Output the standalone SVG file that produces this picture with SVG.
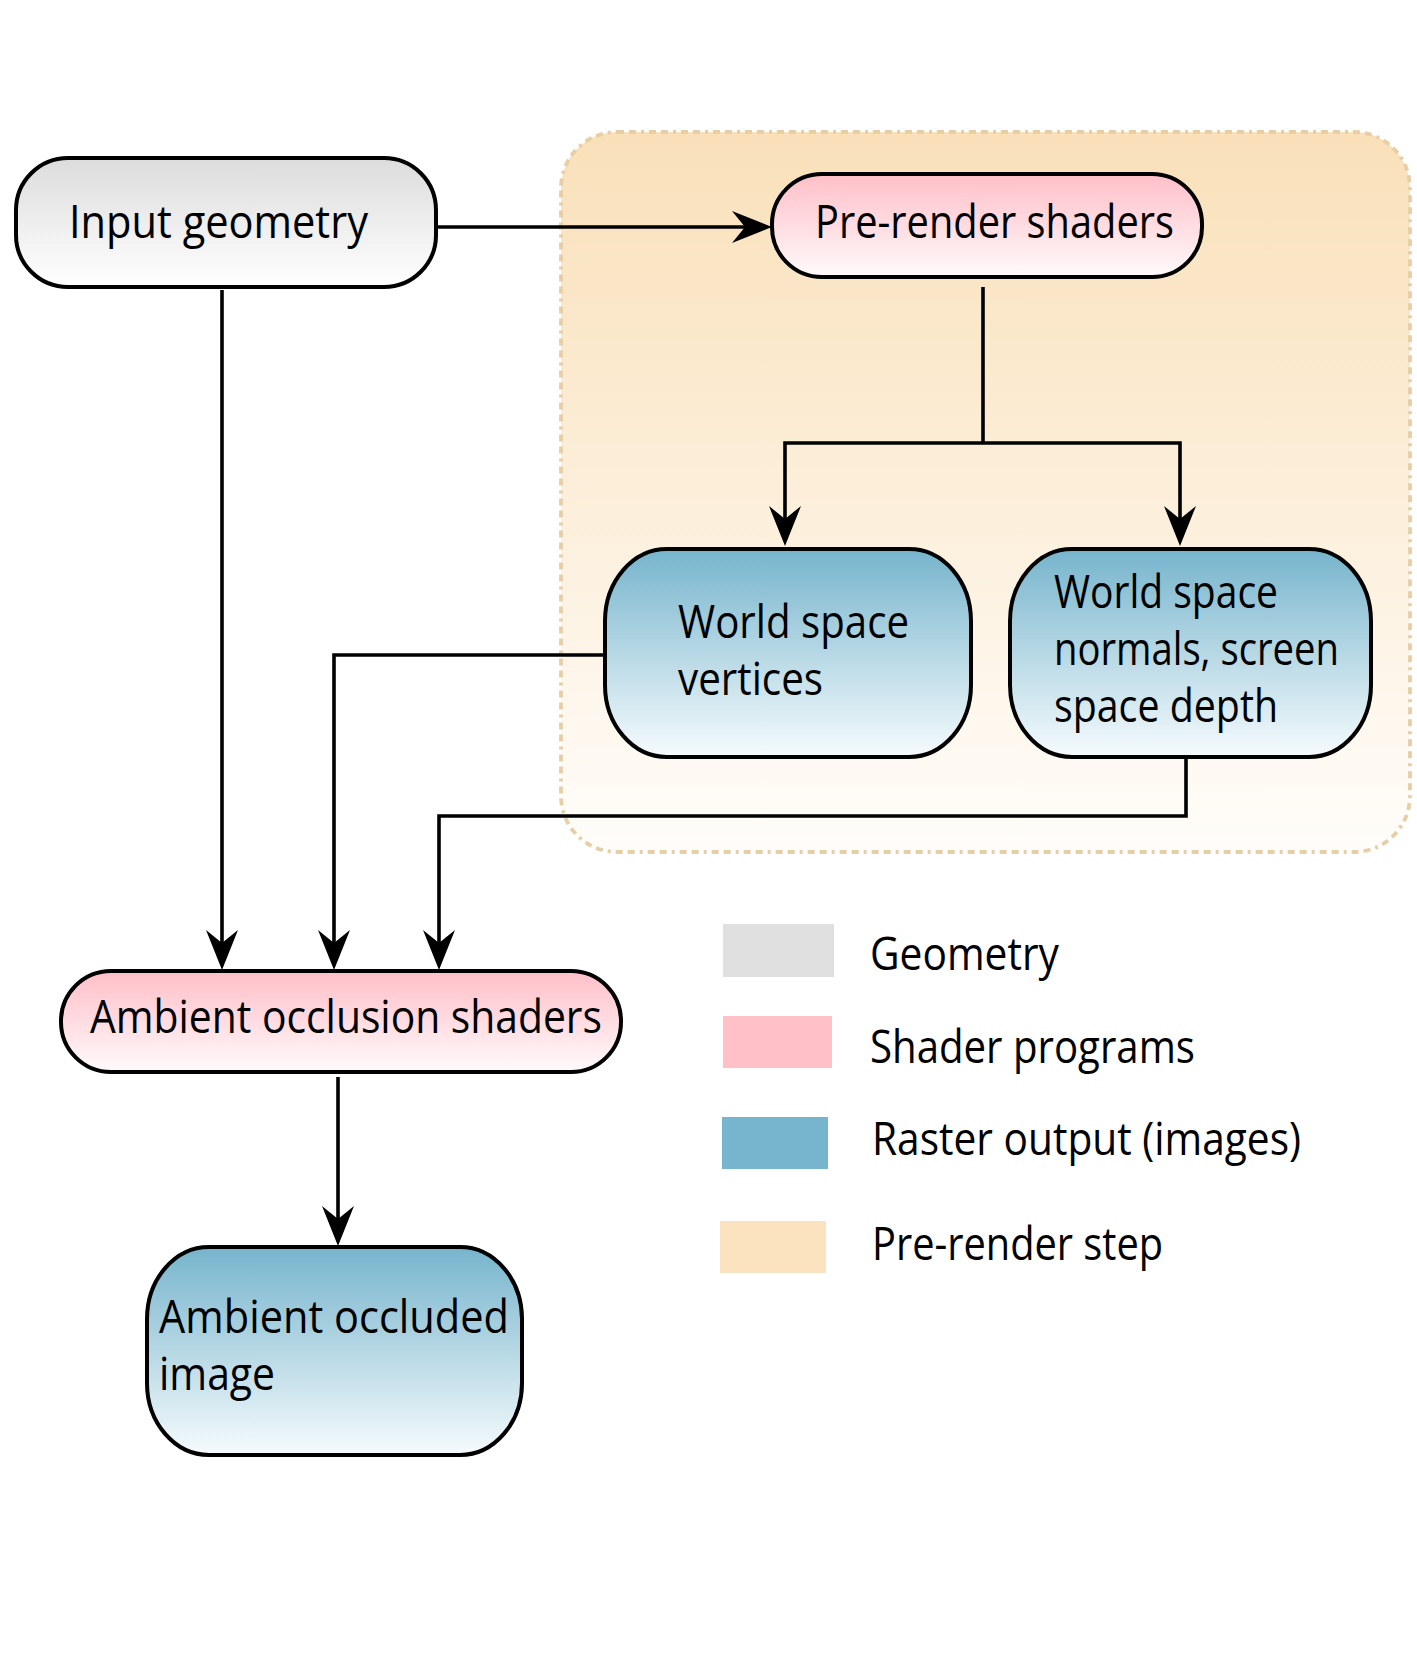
<svg xmlns="http://www.w3.org/2000/svg" width="1417" height="1654" viewBox="0 0 1417 1654">
  <style>
    .node { stroke: #000; stroke-width: 4; }
    .lbl { font-family: "Open Sans", "Liberation Sans", sans-serif; font-size: 45px; fill: #000; }
    .conn { fill: none; stroke: #000; stroke-width: 3.6; }
  </style>
  <defs>
    <linearGradient id="gGray" x1="0" y1="0" x2="0" y2="1">
      <stop offset="0" stop-color="#dcdcdc"/>
      <stop offset="1" stop-color="#ffffff"/>
    </linearGradient>
    <linearGradient id="gPink" x1="0" y1="0" x2="0" y2="1">
      <stop offset="0" stop-color="#ffbfc8"/>
      <stop offset="1" stop-color="#fffafb"/>
    </linearGradient>
    <linearGradient id="gBlue" x1="0" y1="0" x2="0" y2="1">
      <stop offset="0" stop-color="#76b4cc"/>
      <stop offset="1" stop-color="#f6fbfd"/>
    </linearGradient>
    <linearGradient id="gOrange" x1="0" y1="0" x2="0" y2="1">
      <stop offset="0" stop-color="#f9e0b9"/>
      <stop offset="1" stop-color="#fffdfa"/>
    </linearGradient>
    <marker id="arrow" markerUnits="userSpaceOnUse" viewBox="-42 -17 44 34" markerWidth="44" markerHeight="34" refX="-27" refY="0" orient="auto">
      <path d="M0,0 L-40,-16 L-27,0 L-40,16 Z" fill="#000"/>
    </marker>
  </defs>

  <!-- pre-render step region -->
  <g id="prerender-region">
    <rect x="561" y="132" width="849" height="720" rx="56" ry="56" fill="url(#gOrange)" stroke="#e6cea6" stroke-width="3.8" stroke-dasharray="7 5 7 5 3 5"/>
  </g>

  <!-- connectors -->
  <g id="connectors">
    <path class="conn" d="M436,227 H745" marker-end="url(#arrow)"/>
    <path class="conn" d="M222,290 V943" marker-end="url(#arrow)"/>
    <path class="conn" d="M983,287 V443"/>
    <path class="conn" d="M983,443 H785 V519" marker-end="url(#arrow)"/>
    <path class="conn" d="M983,443 H1180 V519" marker-end="url(#arrow)"/>
    <path class="conn" d="M604,655 H334 V943" marker-end="url(#arrow)"/>
    <path class="conn" d="M1186,758 V816 H439 V943" marker-end="url(#arrow)"/>
    <path class="conn" d="M338,1077 V1219" marker-end="url(#arrow)"/>
  </g>

  <g id="input-geometry">
    <rect class="node" x="16" y="158" width="420" height="129" rx="52" ry="52" fill="url(#gGray)"/>
    <text class="lbl" x="69" y="238" textLength="299" lengthAdjust="spacingAndGlyphs">Input geometry</text>
  </g>

  <g id="prerender-shaders">
    <rect class="node" x="772" y="174" width="430" height="103" rx="50" ry="50" fill="url(#gPink)"/>
    <text class="lbl" x="815" y="238" textLength="359" lengthAdjust="spacingAndGlyphs">Pre-render shaders</text>
  </g>

  <g id="world-vertices">
    <rect class="node" x="605" y="549" width="366" height="208" rx="62" ry="72" fill="url(#gBlue)"/>
    <text class="lbl" x="678" y="638" textLength="231" lengthAdjust="spacingAndGlyphs">World space</text>
    <text class="lbl" x="678" y="695" textLength="145" lengthAdjust="spacingAndGlyphs">vertices</text>
  </g>

  <g id="world-normals-depth">
    <rect class="node" x="1010" y="549" width="361" height="208" rx="62" ry="72" fill="url(#gBlue)"/>
    <text class="lbl" x="1054" y="608" textLength="224" lengthAdjust="spacingAndGlyphs">World space</text>
    <text class="lbl" x="1054" y="665" textLength="285" lengthAdjust="spacingAndGlyphs">normals, screen</text>
    <text class="lbl" x="1054" y="722" textLength="224" lengthAdjust="spacingAndGlyphs">space depth</text>
  </g>

  <g id="ao-shaders">
    <rect class="node" x="61" y="971" width="560" height="101" rx="50" ry="50" fill="url(#gPink)"/>
    <text class="lbl" x="90" y="1033" textLength="512" lengthAdjust="spacingAndGlyphs">Ambient occlusion shaders</text>
  </g>

  <g id="ao-image">
    <rect class="node" x="147" y="1247" width="375" height="208" rx="62" ry="72" fill="url(#gBlue)"/>
    <text class="lbl" x="159" y="1333" textLength="350" lengthAdjust="spacingAndGlyphs">Ambient occluded</text>
    <text class="lbl" x="159" y="1390" textLength="116" lengthAdjust="spacingAndGlyphs">image</text>
  </g>

  <!-- legend -->
  <g id="legend">
    <rect x="723" y="924" width="111" height="53" fill="#e0e0e0"/>
    <text class="lbl" x="870" y="970" textLength="189" lengthAdjust="spacingAndGlyphs">Geometry</text>
    <rect x="723" y="1016" width="109" height="52" fill="#ffc0c8"/>
    <text class="lbl" x="870" y="1063" textLength="325" lengthAdjust="spacingAndGlyphs">Shader programs</text>
    <rect x="722" y="1117" width="106" height="52" fill="#77b4cd"/>
    <text class="lbl" x="872" y="1155" textLength="429" lengthAdjust="spacingAndGlyphs">Raster output (images)</text>
    <rect x="720" y="1221" width="106" height="52" fill="#fbe3c0"/>
    <text class="lbl" x="872" y="1260" textLength="291" lengthAdjust="spacingAndGlyphs">Pre-render step</text>
  </g>
</svg>
